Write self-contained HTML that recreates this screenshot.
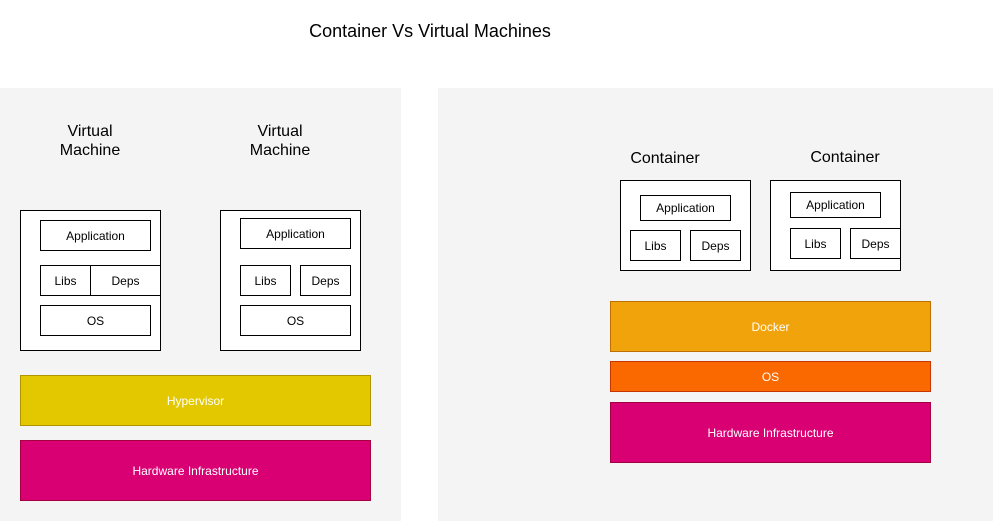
<!DOCTYPE html>
<html><head><meta charset="utf-8"><style>
body{margin:0;width:994px;height:521px;background:#fff;position:relative;overflow:hidden;font-family:"Liberation Sans",Arial,sans-serif;}
div{position:absolute;box-sizing:border-box;}
.p{background:#f4f4f4;}
.b{border:1px solid #000;background:#fff;display:flex;align-items:center;justify-content:center;font-size:12px;color:#000;}
.c{display:flex;align-items:center;justify-content:center;font-size:12px;color:#fff;}
.l{font-size:16px;text-align:center;line-height:19px;color:#000;}
</style></head><body>
<div style="left:230px;top:20px;width:400px;text-align:center;font-size:18px;line-height:22px">Container Vs Virtual Machines</div>
<div class="p" style="left:0;top:88px;width:401px;height:433px"></div>
<div class="p" style="left:438px;top:88px;width:555px;height:433px"></div>

<div class="l" style="left:40px;top:122px;width:100px">Virtual<br>Machine</div>
<div class="l" style="left:230px;top:122px;width:100px">Virtual<br>Machine</div>

<div class="b" style="left:20px;top:210px;width:141px;height:141px"></div>
<div class="b" style="left:40px;top:220px;width:111px;height:31px">Application</div>
<div class="b" style="left:40px;top:265px;width:51px;height:31px">Libs</div>
<div class="b" style="left:90px;top:265px;width:71px;height:31px">Deps</div>
<div class="b" style="left:40px;top:305px;width:111px;height:31px">OS</div>

<div class="b" style="left:220px;top:210px;width:141px;height:141px"></div>
<div class="b" style="left:240px;top:218px;width:111px;height:31px">Application</div>
<div class="b" style="left:240px;top:265px;width:51px;height:31px">Libs</div>
<div class="b" style="left:300px;top:265px;width:51px;height:31px">Deps</div>
<div class="b" style="left:240px;top:305px;width:111px;height:31px">OS</div>

<div class="c" style="left:20px;top:375px;width:351px;height:51px;background:#e3c800;border:1px solid #b09500">Hypervisor</div>
<div class="c" style="left:20px;top:440px;width:351px;height:61px;background:#d80073;border:1px solid #a50040">Hardware Infrastructure</div>

<div class="l" style="left:615px;top:149px;width:100px">Container</div>
<div class="l" style="left:795px;top:148px;width:100px">Container</div>

<div class="b" style="left:620px;top:180px;width:131px;height:91px"></div>
<div class="b" style="left:640px;top:195px;width:91px;height:26px">Application</div>
<div class="b" style="left:630px;top:230px;width:51px;height:31px">Libs</div>
<div class="b" style="left:690px;top:230px;width:51px;height:31px">Deps</div>

<div class="b" style="left:770px;top:180px;width:131px;height:91px"></div>
<div class="b" style="left:790px;top:192px;width:91px;height:26px">Application</div>
<div class="b" style="left:790px;top:228px;width:51px;height:31px">Libs</div>
<div class="b" style="left:850px;top:228px;width:51px;height:31px">Deps</div>

<div class="c" style="left:610px;top:301px;width:321px;height:51px;background:#f0a30a;border:1px solid #bd7000">Docker</div>
<div class="c" style="left:610px;top:361px;width:321px;height:31px;background:#fa6800;border:1px solid #c73500">OS</div>
<div class="c" style="left:610px;top:402px;width:321px;height:61px;background:#d80073;border:1px solid #a50040">Hardware Infrastructure</div>
</body></html>
